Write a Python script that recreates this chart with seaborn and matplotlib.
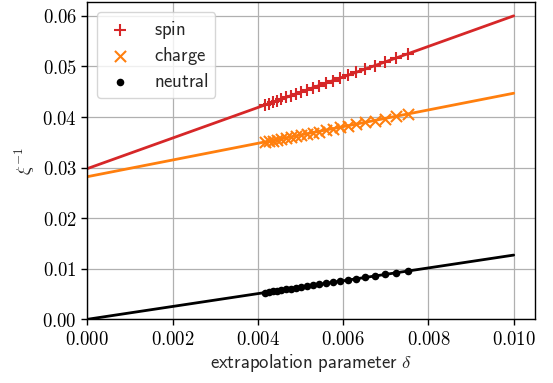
import numpy as np
import pandas as pd
import seaborn as sns
import matplotlib
matplotlib.use("Agg")
import matplotlib.pyplot as plt
from matplotlib.ticker import FuncFormatter, MultipleLocator

# extrapolation parameter delta of the data points
delta = [0.007519, 0.007241, 0.006982, 0.006741, 0.006517, 0.006306, 0.006109,
         0.005924, 0.005750, 0.005586, 0.005431, 0.005284, 0.005145, 0.005013,
         0.004888, 0.004768, 0.004655, 0.004547, 0.004443, 0.004344, 0.004250,
         0.004160]

# inverse correlation lengths
spin = [0.05251, 0.05167, 0.05089, 0.05016, 0.04948, 0.04884, 0.04825,
        0.04769, 0.04716, 0.04667, 0.04620, 0.04576, 0.04534, 0.04494,
        0.04456, 0.04420, 0.04386, 0.04353, 0.04322, 0.04292, 0.04264,
        0.04236]
charge = [0.04057, 0.04011, 0.03969, 0.03929, 0.03892, 0.03857, 0.03825,
          0.03794, 0.03766, 0.03739, 0.03713, 0.03689, 0.03666, 0.03645,
          0.03624, 0.03604, 0.03586, 0.03568, 0.03551, 0.03535, 0.03519,
          0.03504]
neutral = [0.009549, 0.009196, 0.008867, 0.008561, 0.008277, 0.008009, 0.007758,
           0.007523, 0.007303, 0.007094, 0.006897, 0.006711, 0.006534, 0.006367,
           0.006208, 0.006055, 0.005912, 0.005775, 0.005643, 0.005517, 0.005398,
           0.005283]

# linear extrapolation lines
fit_x = [0.0, 0.010]
spin_fit = [0.0298, 0.0600]
charge_fit = [0.0282, 0.0447]
neutral_fit = [0.0, 0.0127]

sns.set_style("ticks", {"axes.grid": True})
plt.rcParams.update({
    "mathtext.fontset": "cm",
    "axes.edgecolor": "black",
    "axes.linewidth": 1.0,
    "grid.color": "#b0b0b0",
    "grid.linewidth": 0.9,
    "xtick.color": "black",
    "ytick.color": "black",
    "xtick.direction": "out",
    "ytick.direction": "out",
})

fig = plt.figure(figsize=(5.53, 3.83), dpi=100)
ax = fig.add_axes([0.158, 0.1663, 0.8095, 0.8293])

colors = {"spin": "#d62728", "charge": "#ff7f0e", "neutral": "black"}

sns.lineplot(x=fit_x, y=spin_fit, color=colors["spin"], lw=2, ax=ax)
sns.lineplot(x=fit_x, y=charge_fit, color=colors["charge"], lw=2, ax=ax)
sns.lineplot(x=fit_x, y=neutral_fit, color=colors["neutral"], lw=2, ax=ax)

sns.scatterplot(x=delta, y=spin, marker="+", s=64, linewidth=1.5,
                color=colors["spin"], label=r"$\mathsf{spin}$", ax=ax, zorder=3)
sns.scatterplot(x=delta, y=charge, marker="x", s=64, linewidth=1.5,
                color=colors["charge"], label=r"$\mathsf{charge}$", ax=ax, zorder=3)
sns.scatterplot(x=delta, y=neutral, marker="o", s=30, linewidth=0,
                color=colors["neutral"], label=r"$\mathsf{neutral}$", ax=ax, zorder=3)

ax.set_xlim(0, 0.0105)
ax.set_ylim(0, 0.0628)
ax.xaxis.set_major_locator(MultipleLocator(0.002))
ax.yaxis.set_major_locator(MultipleLocator(0.01))
ax.xaxis.set_major_formatter(FuncFormatter(lambda v, p: r"$%.3f$" % v))
ax.yaxis.set_major_formatter(FuncFormatter(lambda v, p: r"$%.2f$" % v))
ax.tick_params(labelsize=13.5, length=4, width=1)

ax.set_xlabel(r"$\mathsf{extrapolation\ parameter}\ \delta$", fontsize=13.5, labelpad=2)
ax.set_ylabel(r"$\xi^{-1}$", fontsize=13.5, labelpad=4)

leg = ax.legend(loc="upper left", fontsize=13.5, frameon=True,
                handletextpad=0.9, handlelength=1.8, borderpad=0.35,
                labelspacing=0.25, borderaxespad=0.0,
                bbox_to_anchor=(0.021, 0.967))
leg.get_frame().set_edgecolor("#cccccc")
for sp in ax.spines.values():
    sp.set_visible(True)

fig.savefig("out.png", dpi=100)
